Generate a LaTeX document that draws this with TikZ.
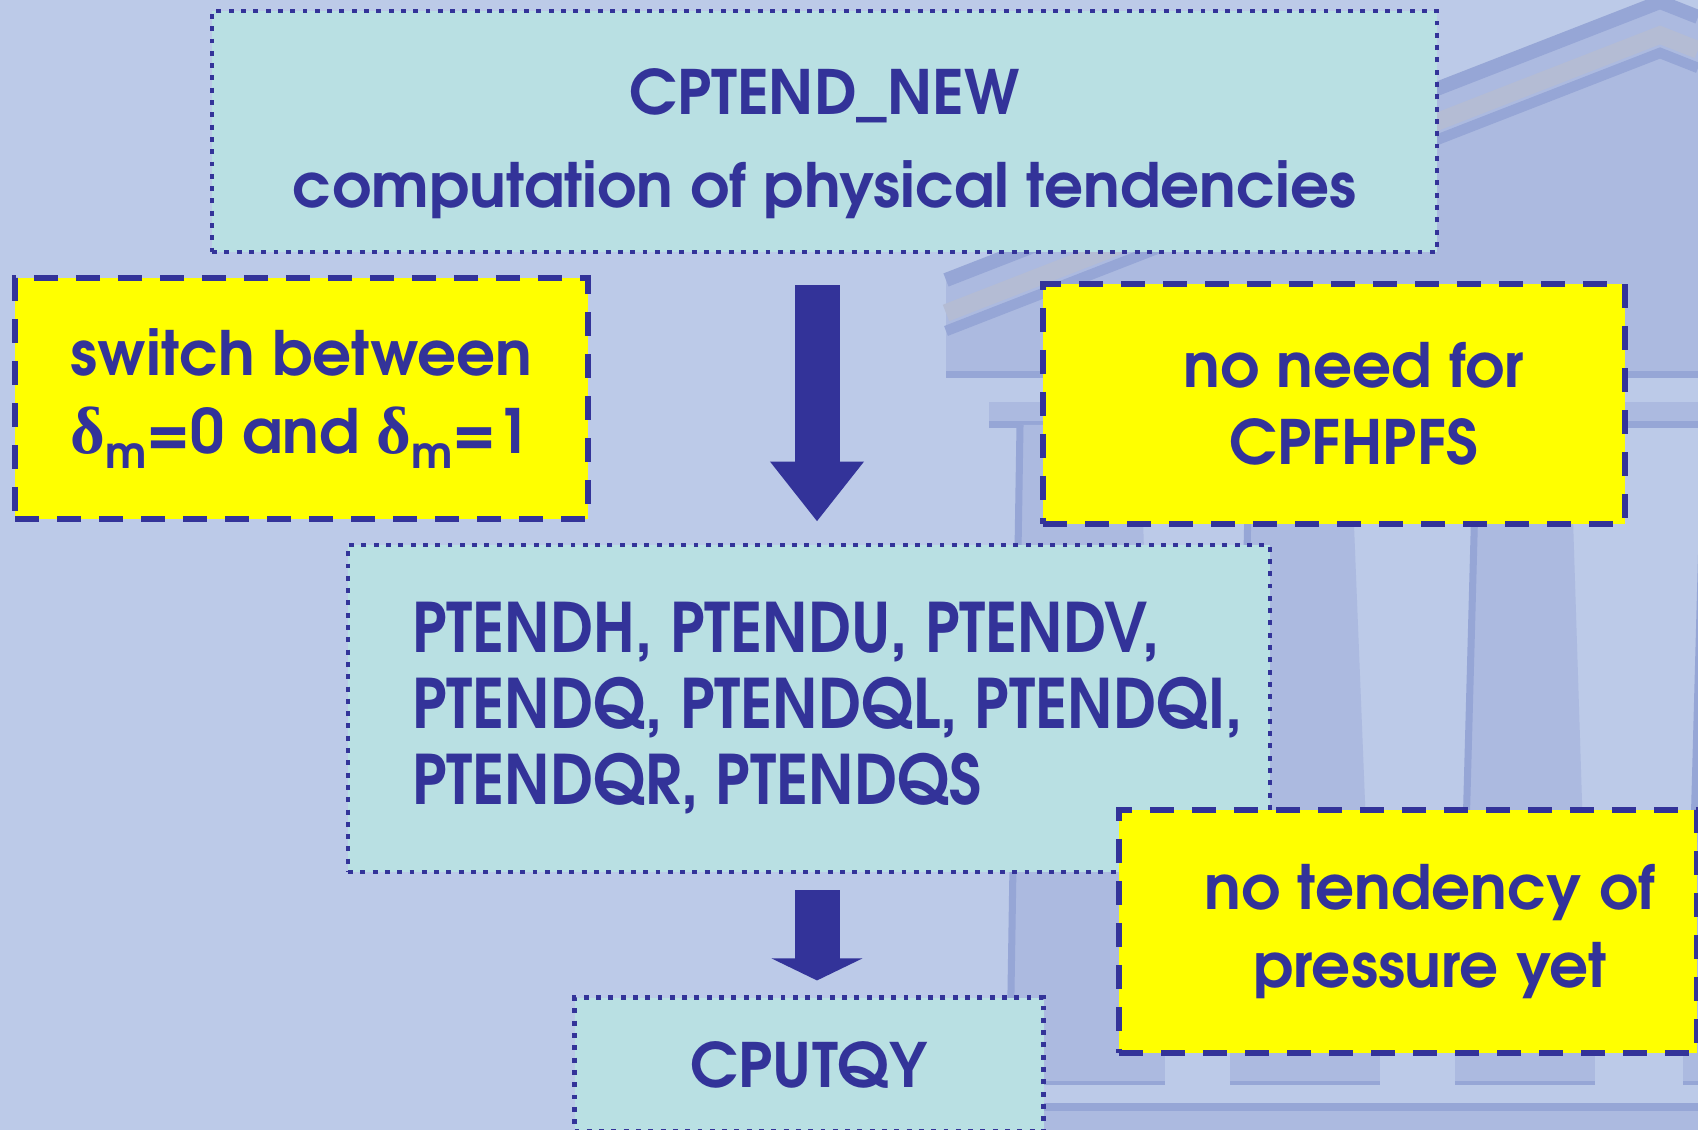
\documentclass[tikz,border=0pt]{standalone}
\usepackage{fontspec}
\setmainfont{TeX Gyre Adventor}
\newfontfamily\narrowfont[FakeStretch=0.905]{TeX Gyre Adventor}
\newfontfamily\greekfont{Liberation Serif}
\usetikzlibrary{positioning,arrows.meta}
\definecolor{inkblue}{RGB}{51,51,153}
\definecolor{pagebg}{RGB}{188,202,232}
\definecolor{boxcyan}{RGB}{185,224,227}
\definecolor{noteyellow}{RGB}{255,255,0}
\definecolor{templeshade}{RGB}{172,186,224}
\definecolor{templeedge}{RGB}{150,166,214}
\definecolor{templegrey}{RGB}{180,188,212}
\newcommand{\dm}{{\greekfont\fontsize{19}{19}\selectfont δ}\raisebox{-0.15cm}{\fontsize{12.5}{12.5}\selectfont m}}

\begin{document}
\begin{tikzpicture}[
  font=\bfseries\fontsize{17.4}{26.4}\selectfont,
  routine/.style={draw=inkblue,line width=1.4pt,dash pattern=on 1.4pt off 2.1pt,fill=boxcyan,text=inkblue,inner sep=0pt,align=center},
  note/.style={draw=inkblue,line width=1.7pt,dash pattern=on 0.24cm off 0.18cm,fill=noteyellow,text=inkblue,inner sep=0pt,align=center,font=\bfseries\fontsize{17.4}{22}\selectfont},
  flow/.style={draw=inkblue,line width=0.45cm},
  column/.style={fill=templeshade}
]
\clip (0,0) rectangle (16.98,11.30);
\fill[pagebg] (0,0) rectangle (16.98,11.30);

% temple behind the boxes
\fill[templeshade] (9.46,8.52) -- (16.60,11.30) -- (16.98,11.15) -- (16.98,7.78) -- (9.46,7.78) -- cycle;
\fill[pagebg] (9.46,7.30) rectangle (16.98,7.55);
\draw[templeedge,line width=4pt] (9.46,8.50) -- (16.60,11.28) -- (16.98,11.13);
\draw[templegrey,line width=5pt] (9.46,8.17) -- (16.60,10.95) -- (16.98,10.80);
\draw[templeedge,line width=3pt] (9.46,7.99) -- (16.60,10.77) -- (16.98,10.62);
\fill[templeshade] (9.46,7.55) rectangle (16.98,7.78);
\draw[templeedge,line width=2pt] (9.46,7.55) -- (16.98,7.55);
\fill[templeshade] (9.89,7.05) rectangle (16.98,7.28);
\draw[templeedge,line width=2pt] (9.89,7.05) -- (16.98,7.05);
\foreach \a/\b/\c/\d in {10.20/11.40/10.10/11.60,12.50/13.50/12.35/13.75,14.77/15.70/14.60/15.90,17.05/18.00/16.88/18.20}{
  \fill[column] (\c,0.77) -- (\a,7.05) -- (\b,7.05) -- (\d,0.77) -- cycle;
  \draw[templeedge,line width=2pt] (\c,0.77) -- (\a,7.05);
  \fill[templeshade] (\c-0.05,0.47) rectangle (\d+0.05,0.77);
  \draw[templeedge,line width=1pt] (\c-0.05,0.47) -- (\d+0.05,0.47);
}
\fill[templeshade] (10.0,0) rectangle (16.98,0.23);
\draw[templeedge,line width=2pt] (10.0,0.23) -- (16.98,0.23);

\node[routine,minimum width=12.25cm,minimum height=2.41cm,text height=1.63cm] (newtend) at (8.245,9.985)
 {CPTEND\_NEW\\computation of physical tendencies};
\node[note,minimum width=5.73cm,minimum height=2.41cm,align=left] (switch) at (3.015,7.315)
 {switch between\\\dm=0 and \dm=1};
\node[note,minimum width=5.82cm,minimum height=2.40cm] (noneed) at (13.34,7.26)
 {\hspace*{0.4cm}no need for\\\hspace*{0.4cm}CPFHPFS};
\node[routine,minimum width=9.22cm,minimum height=3.27cm,align=left,
 font=\narrowfont\bfseries\fontsize{19.4}{21.6}\selectfont] (tend) at (8.09,4.215)
 {\hspace*{0.37cm}PTENDH, PTENDU, PTENDV,\\\hspace*{0.37cm}PTENDQ, PTENDQL, PTENDQI,\\\hspace*{0.37cm}PTENDQR, PTENDQS};
\node[note,minimum width=5.78cm,minimum height=2.43cm] (nopress) at (14.08,1.985)
 {\hspace*{0.44cm}no tendency of\\\hspace*{0.44cm}pressure yet};
\node[routine,minimum width=4.69cm,minimum height=1.34cm,below=1.21cm of tend] (putqy) {CPUTQY};

\draw[flow,-{Triangle[width=0.9cm,length=0.6cm]},shorten <=0.31cm,shorten >=0.21cm]
 ([xshift=-0.075cm]newtend.south) -- ([xshift=-0.075cm]newtend.south |- tend.north);
\draw[flow,-{Triangle[width=0.9cm,length=0.22cm]},shorten <=0.16cm,shorten >=0.15cm]
 ([xshift=0.08cm]tend.south) -- ([xshift=0.08cm]tend.south |- putqy.north);
\end{tikzpicture}
\end{document}
